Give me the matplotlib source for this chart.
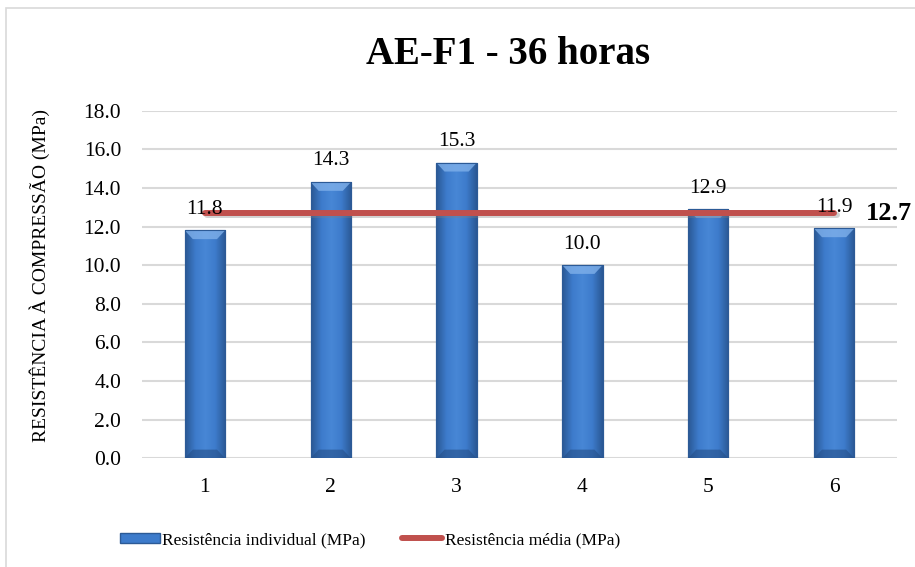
import numpy as np
import matplotlib
matplotlib.use("Agg")
import matplotlib.pyplot as plt
from matplotlib.colors import LinearSegmentedColormap
from matplotlib.patches import Rectangle, Polygon
from matplotlib.lines import Line2D

plt.rcParams['font.family'] = ['Liberation Serif', 'DejaVu Serif']

# data
categories = ['1', '2', '3', '4', '5', '6']
individual = [11.8, 14.3, 15.3, 10.0, 12.9, 11.9]
mean_value = 12.7
title = 'AE-F1 - 36 horas'
ylabel = 'RESISTÊNCIA À COMPRESSÃO (MPa)'
legend_labels = ['Resistência individual (MPa)', 'Resistência média (MPa)']

W, H = 915, 567
fig = plt.figure(figsize=(W / 100, H / 100), dpi=100)

# chart area border
fig.patches.append(Rectangle((6 / W, -0.1), 1.2, 1 - 8 / H + 0.1,
                             transform=fig.transFigure, fill=False,
                             edgecolor='#d9d9d9', linewidth=1.2))

ax = fig.add_axes([142 / W, 1 - 458.3 / H, 755 / W, (458.3 - 110.7) / H])
x = np.arange(len(categories))
bar_w = 0.32

ax.set_yticks(np.arange(0, 18.1, 2))
ax.set_yticklabels([f'{v:.1f}' for v in np.arange(0, 18.1, 2)])
ax.set_xticks(x)
ax.set_xticklabels(categories)
ax.tick_params(axis='both', length=0, labelsize=15.5, colors='#000000')
ax.tick_params(axis='y', pad=15)
ax.tick_params(axis='x', pad=14)
ax.grid(axis='y', color='#d9d9d9', linewidth=1.5)
ax.set_axisbelow(True)
for s in ax.spines.values():
    s.set_visible(False)

# bevelled blue bars
cmap = LinearSegmentedColormap.from_list(
    'bev', ['#2a5894', '#3d7bcb', '#4887d6', '#3d7bcb', '#2a5894'])
grad = np.linspace(0, 1, 64).reshape(1, -1)
bars = ax.bar(x, individual, width=bar_w, color='#3d7bcb',
              edgecolor='#2c5a96', linewidth=0.8, zorder=2)
for b in bars:
    x0, y0 = b.get_x(), b.get_y()
    bw, bh = b.get_width(), b.get_height()
    im = ax.imshow(grad, cmap=cmap, aspect='auto',
                   extent=[x0, x0 + bw, y0, y0 + bh], zorder=2.1)
    im.set_clip_path(b)
    # top bevel
    d = 0.45
    ax.add_patch(Polygon([[x0, y0 + bh], [x0 + bw, y0 + bh],
                          [x0 + bw - bw * 0.2, y0 + bh - d],
                          [x0 + bw * 0.2, y0 + bh - d]],
                         closed=True, facecolor='#7fb0ea', edgecolor='none',
                         alpha=0.8, zorder=2.2))
    # bottom bevel
    ax.add_patch(Polygon([[x0, y0], [x0 + bw, y0],
                          [x0 + bw - bw * 0.2, y0 + d],
                          [x0 + bw * 0.2, y0 + d]],
                         closed=True, facecolor='#254f88', edgecolor='none',
                         alpha=0.6, zorder=2.2))
    ax.add_patch(Rectangle((x0, y0), bw, bh, fill=False,
                           edgecolor='#2c5a96', linewidth=0.8, zorder=2.3))
ax.set_xlim(-0.5, len(categories) - 0.5)
ax.set_ylim(0, 18)

# mean line with shadow
mean_line = [mean_value] * len(categories)
ax.plot(x + 0.02, np.array(mean_line) - 0.12, color='#7f7f7f', alpha=0.35,
        linewidth=4.3, solid_capstyle='round', zorder=3)
ax.plot(x, mean_line, color='#c0504d', linewidth=4.3,
        solid_capstyle='round', zorder=3.1)

# data labels
for xi, v in zip(x, individual):
    ax.annotate(f'{v:.1f}', (xi, v), xytext=(0, 12), textcoords='offset points',
                ha='center', va='baseline', fontsize=15.5, zorder=4)
ax.annotate(f'{mean_value:.1f}', (x[-1], mean_value), xytext=(23, 0),
            textcoords='offset points', ha='left', va='center',
            fontsize=19, fontweight='bold', zorder=4, annotation_clip=False)

fig.text(508 / W, 1 - 55 / H, title, ha='center', va='center',
         fontsize=28, fontweight='bold')
fig.text(40 / W, 1 - 275 / H, ylabel, ha='center', va='center',
         rotation=90, fontsize=14)

handles = [Rectangle((0, 0), 1, 1, facecolor='#3d7bcb', edgecolor='#2c5a96'),
           Line2D([0], [0], color='#c0504d', linewidth=4.3,
                  solid_capstyle='round')]
fig.legend(handles, legend_labels, loc='center', ncol=2,
           bbox_to_anchor=(370 / W, 1 - 540 / H), frameon=False,
           fontsize=12.5, handlelength=2.3, handleheight=0.5,
           handletextpad=0.15, columnspacing=2.1)

fig.savefig('out.png', dpi=100)
